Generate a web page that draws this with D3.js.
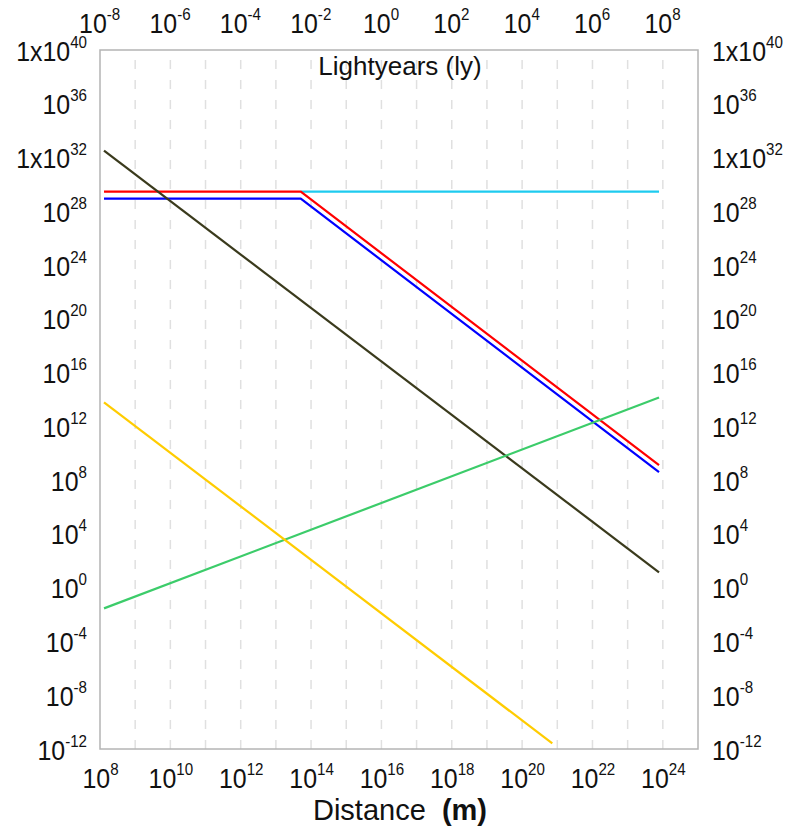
<!DOCTYPE html>
<html>
<head>
<meta charset="utf-8">
<script src="https://cdn.jsdelivr.net/npm/d3@7"></script>
<style>
  html, body { margin: 0; padding: 0; background: #fff; }
  svg { display: block; }
  text { font-family: "Liberation Sans", Arial, Helvetica, sans-serif; fill: #111; }
</style>
</head>
<body>
<svg id="chart" width="787" height="829"></svg>
<script>
// ---- data (x in metres, y in chart units) ----
const redSeries   = [[1.3e8, 2.9e29], [5.1e13, 2.9e29], [7.8e23, 1.3e9]];
const blueSeries  = [[1.3e8, 8.7e28], [5.1e13, 8.7e28], [7.8e23, 4.0e8]];
const cyanSeries  = [[5.1e13, 2.9e29], [7.8e23, 2.9e29]];
const oliveSeries = [[1.3e8, 3.2e32], [7.8e23, 1.4e1]];
const greenSeries = [[1.3e8, 2.9e-2], [7.8e23, 1.4e14]];
const goldSeries  = [[1.3e8, 6.2e13], [7.2e20, 2.6e-12]];

const xTickExps   = [8, 10, 12, 14, 16, 18, 20, 22, 24];
const lyTickExps  = [-8, -6, -4, -2, 0, 2, 4, 6, 8];
const yTickExps   = [40, 36, 32, 28, 24, 20, 16, 12, 8, 4, 0, -4, -8, -12];
const yTickPrefix = {40: "1x", 32: "1x"};
const gridExps    = d3.range(9, 25);
const metresPerLy = 9.4607e15;

const xTitle = "Distance";
const xUnit  = "(m)";
const topTitle = "Lightyears (ly)";

// ---- layout ----
const L = 100, R = 698, T = 50, B = 749;
const SX = 0.89;
const svg = d3.select("#chart");

const x = d3.scaleLog().domain([1e8, 1e25]).range([L, R]);
const xLy = d3.scaleLog().domain([1e8 / metresPerLy, 1e25 / metresPerLy]).range([L, R]);
const y = d3.scaleLog().domain([1e-12, 1e40]).range([B, T]);

// grid
svg.append("g").selectAll("line").data(gridExps).join("line")
  .attr("x1", d => x(Math.pow(10, d))).attr("x2", d => x(Math.pow(10, d)))
  .attr("y1", T).attr("y2", B)
  .attr("stroke", "#e0e0e0").attr("stroke-width", 1.5)
  .attr("stroke-dasharray", "9 11").attr("stroke-dashoffset", 10);

// frame
svg.append("rect").attr("x", L).attr("y", T).attr("width", R - L).attr("height", B - T)
  .attr("fill", "none").attr("stroke", "#b4b4b4").attr("stroke-width", 1.5);

// helper for power labels
function powLabel(sel, exp, prefix) {
  sel.text(null);
  sel.append("tspan").text((prefix || "") + "10");
  sel.append("tspan").attr("dy", -13).attr("font-size", 17).text(exp);
}

function addAxis(axisGen, translate, dx, dy, anchor, withPrefix) {
  const g = svg.append("g").attr("transform", translate).call(axisGen.tickSize(0).tickFormat(""));
  g.select(".domain").remove();
  g.selectAll(".tick text").remove();
  g.selectAll(".tick").append("text")
    .attr("transform", `translate(${dx},${dy}) scale(${SX},1)`)
    .attr("text-anchor", anchor).attr("font-size", 28)
    .each(function(d) {
      const e = Math.round(Math.log10(d));
      powLabel(d3.select(this), e, withPrefix ? yTickPrefix[e] : "");
    });
}

addAxis(d3.axisBottom(x).tickValues(xTickExps.map(e => Math.pow(10, e))), `translate(0,${B})`, 0, 39, "middle", false);
addAxis(d3.axisTop(xLy).tickValues(lyTickExps.map(e => Math.pow(10, e))), `translate(0,${T})`, 0, -17, "middle", false);
addAxis(d3.axisLeft(y).tickValues(yTickExps.map(e => Math.pow(10, e))), `translate(${L},0)`, -13, 10, "end", true);
addAxis(d3.axisRight(y).tickValues(yTickExps.map(e => Math.pow(10, e))), `translate(${R},0)`, 14, 10, "start", true);

// titles
svg.append("text").attr("x", 400).attr("y", 75).attr("text-anchor", "middle")
  .attr("font-size", 26).text(topTitle);

const xt = svg.append("text").attr("x", 400).attr("y", 820).attr("text-anchor", "middle")
  .attr("font-size", 29);
xt.append("tspan").text(xTitle + "\u00a0\u00a0");
xt.append("tspan").attr("font-weight", "bold").text(xUnit);

// lines
const line = d3.line().x(d => x(d[0])).y(d => y(d[1]));
const series = [
  {data: cyanSeries,  color: "#1ecbef"},
  {data: redSeries,   color: "#ff0000"},
  {data: blueSeries,  color: "#0000ff"},
  {data: oliveSeries, color: "#3a3a1c"},
  {data: greenSeries, color: "#3ccc6a"},
  {data: goldSeries,  color: "#ffcc00"}
];
svg.append("g").selectAll("path").data(series).join("path")
  .attr("d", d => line(d.data))
  .attr("fill", "none")
  .attr("stroke", d => d.color)
  .attr("stroke-width", 2.2)
  .attr("stroke-linejoin", "round");
</script>
</body>
</html>
